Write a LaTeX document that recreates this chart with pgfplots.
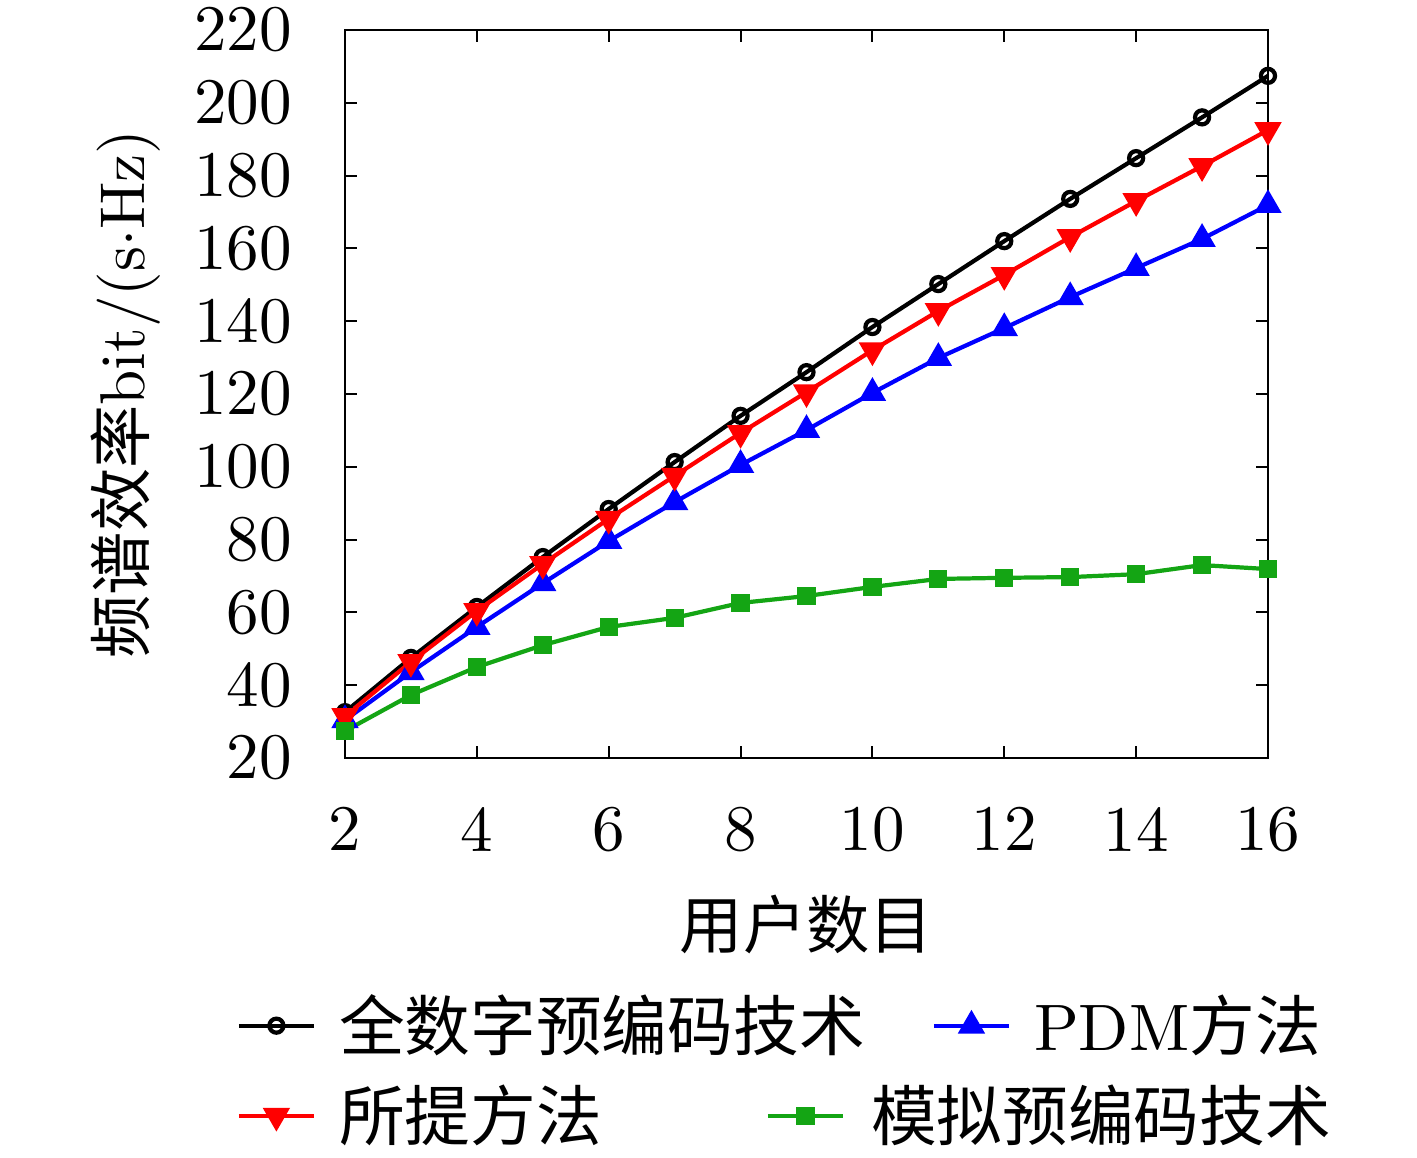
\documentclass[border=0pt]{standalone}
\usepackage{pgfplots}
\pgfplotsset{compat=1.18}
\usepackage{fontspec}
\setmainfont{lmroman10-regular.otf}
\newfontfamily\cjk{Noto Sans CJK SC}
\definecolor{mgreen}{RGB}{20,165,20}
\begin{document}
\begin{tikzpicture}
\useasboundingbox (-3.45,-3.99) rectangle (10.72,7.58);
\begin{axis}[
  at={(0,0)}, anchor=south west,
  scale only axis, width=9.23cm, height=7.28cm,
  xmin=2, xmax=16, ymin=20, ymax=220,
  xtick={2,4,...,16}, ytick={20,40,...,220},
  /pgf/number format/assume math mode=true,
  tick align=inside, major tick length=0.12cm,
  tick style={line width=0.6pt, black},
  axis line style={line width=0.8pt},
  every tick label/.append style={font=\fontsize{18.5}{22}\selectfont},
  xticklabel style={yshift=-0.37cm},
  yticklabel style={xshift=-0.41cm},
  xlabel={\cjk 用户数目},
  ylabel={{\cjk 频谱效率}bit/(s$\cdot$Hz)},
  label style={font=\fontsize{18}{22}\selectfont},
  xlabel style={at={(axis description cs:0.5,-0.229)}, anchor=center},
  ylabel style={at={(axis description cs:-0.238,0.5)}, anchor=center},
  legend columns=2, legend cell align=left,
  legend style={draw=none, fill=none, at={(axis description cs:-0.118,-0.315)}, anchor=north west,
    inner sep=0pt, row sep=0.15cm, font=\fontsize{18.7}{22}\selectfont,
    /tikz/every odd column/.append style={column sep=0.16cm},
    /tikz/every even column/.append style={column sep=0.6cm},
    /tikz/column 3/.append style={column sep=0.06cm}},
  legend image code/.code={\draw[mark repeat=2,mark phase=2] plot coordinates {(0cm,0cm)(0.375cm,0cm)(0.75cm,0cm)};},
  every axis plot/.append style={line width=1.2pt},
]
\addplot[black, mark=o, mark size=2pt, mark options={solid}] coordinates {
(2,32.6)(3,47.5)(4,61.5)(5,75.2)(6,88.4)(7,101.3)(8,114)(9,126)(10,138.4)(11,150.2)(12,162)(13,173.6)(14,184.8)(15,196)(16,207.4)};
\addlegendentry{\cjk 全数字预编码技术}
\addplot[blue, mark=triangle*, mark size=3.3pt, mark options={solid}] coordinates {
(2,30.4)(3,43.6)(4,56)(5,68)(6,79.6)(7,90.3)(8,100.5)(9,110.1)(10,120.3)(11,129.9)(12,138.1)(13,146.6)(14,154.6)(15,162.6)(16,171.9)};
\addlegendentry{PDM{\cjk 方法}}
\addplot[red, mark=triangle*, mark size=3.3pt, mark options={solid, rotate=180}] coordinates {
(2,31.5)(3,46.4)(4,60.4)(5,73.3)(6,85.7)(7,97.5)(8,109.3)(9,120.5)(10,132)(11,142.8)(12,152.7)(13,163.1)(14,173)(15,182.6)(16,192.5)};
\addlegendentry{\cjk 所提方法}
\addplot[mgreen, mark=square*, mark size=2pt, mark options={solid},
  legend image code/.code={\begin{scope}[overlay, xshift=-1.66cm]\draw[mark repeat=2,mark phase=2] plot coordinates {(0cm,0cm)(0.375cm,0cm)(0.75cm,0cm)};\end{scope}}] coordinates {
(2,27.4)(3,37.3)(4,45)(5,51)(6,56)(7,58.5)(8,62.6)(9,64.5)(10,67)(11,69.2)(12,69.5)(13,69.7)(14,70.5)(15,73)(16,71.9)};
\addlegendentry{\hspace*{-1.63cm}\cjk 模拟预编码技术}
\end{axis}
\end{tikzpicture}
\end{document}
